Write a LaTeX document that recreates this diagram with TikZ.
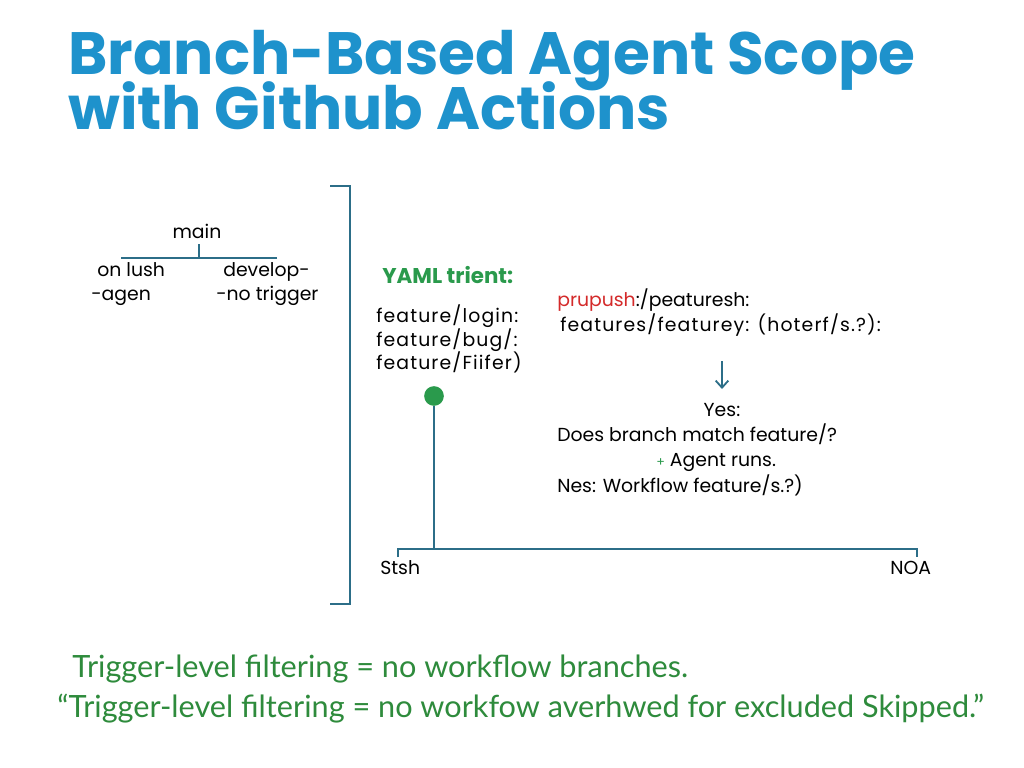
\documentclass[tikz,border=0pt]{standalone}
\usepackage{fontspec}
\setmainfont{Poppins}
\newfontfamily\notefont{Lato}
\usepackage{xcolor}
\definecolor{titleblue}{HTML}{1E92CC}
\definecolor{yamlgreen}{HTML}{2A9A4C}
\definecolor{notegreen}{HTML}{2E8B3C}
\definecolor{wire}{HTML}{2C6E88}
\definecolor{pushred}{HTML}{D42A2A}
\usetikzlibrary{positioning,arrows.meta,calc}

\begin{document}
\begin{tikzpicture}[x=0.025cm,y=-0.025cm,
	wire/.style={draw=wire, line width=1.6pt},
	txt/.style={anchor=base west, inner sep=0pt, font=\fontsize{13.4}{16}\selectfont},
	ctxt/.style={anchor=base, inner sep=0pt, font=\fontsize{13.4}{16}\selectfont},
	wide/.style={font=\fontsize{13.4}{16}\selectfont\addfontfeature{LetterSpace=6}},
	title/.style={anchor=base west, inner sep=0pt, text=titleblue, font=\bfseries\fontsize{42.5}{48}\selectfont},
	note/.style={anchor=base west, inner sep=0pt, text=notegreen, font=\notefont\fontsize{21.8}{25}\selectfont}]
	\useasboundingbox[fill=white] (0,0) rectangle (1024,768);
	
	% draw title
	\draw (68,75) node[title] (title1) {Branch-Based Agent Scope};
	\draw (68,130) node[title] (title2) {with Github Actions};
	
	% draw branch tree
	\draw (197,238) node[ctxt] (main) {main};
	\draw (97,276) node[txt] (onlush) {on lush};
	\draw (91,300) node[txt] (agen) {-agen};
	\draw (223,276) node[txt] (develop) {develop-};
	\draw (216,300) node[txt] (notrig) {-no trigger};
	\coordinate (tl) at (121,258);
	\coordinate (tr) at (277,258);
	\coordinate (tm) at (199,244);
	\draw[wire, line width=1.2pt] (tl) |- (tr);
	\draw[wire, line width=1.2pt] (tr) |- (tl);
	\draw[wire, line width=1.2pt] (tm) -- (tm |- tl) ++(0,-8);
	
	%%% big bracket
	\coordinate (bt) at (330,186);
	\coordinate (bb) at (330,604);
	\draw[wire] (bt) -| (350,604) -- (bb);
	
	% draw yaml side
	\draw (382,283) node[txt, text=yamlgreen, font=\bfseries\fontsize{15.2}{18}\selectfont] (yaml) {YAML trient:};
	\draw (376,322) node[txt, wide] (flogin) {feature/login:};
	\draw (376,346) node[txt, wide] (fbug) {feature/bug/:};
	\draw (376,369) node[txt, wide] (ffiifer) {feature/Fiifer)};
	\draw (434,396) node[circle, fill=yamlgreen, minimum size=14pt, inner sep=0pt] (dot) {};
	\coordinate (stem) at (434,549);
	\draw[wire] (dot) -- (stem);
	
	% draw base line
	\coordinate (sl) at (398,557);
	\coordinate (sr) at (917,557);
	\draw[wire] (sl) |- (stem) -| (sr);
	\draw (380,574) node[txt] (stsh) {Stsh};
	\draw (890,574) node[txt] (noa) {NOA};
	
	% draw push side
	\draw (557,306) node[txt] (push) {\textcolor{pushred}{prupush}:/peaturesh:};
	\draw (560,331) node[txt, wide] (feats) {features/featurey: (hoterf/s.?):};
	\coordinate (ar1) at (722,361);
	\coordinate (ar2) at (722,389);
	\draw[wire, line width=1.3pt, -{Straight Barb[length=5pt,width=9pt]}] (ar1) -- (ar2);
	\draw (722,416) node[ctxt] (yes) {Yes:};
	\draw (557,441) node[txt] (match) {Does branch match feature/?};
	\draw (656,466) node[txt] (runs) {\textcolor{yamlgreen}{\small+}\ Agent runs.};
	\draw (557,492) node[txt] (nes) {Nes: Workflow feature/s.?)};
	
	% draw notes
	\draw (72,677) node[note] (note1) {Trigger-level filtering = no workflow branches.};
	\draw (57,717) node[note] (note2) {“Trigger-level filtering = no workfow averhwed for excluded Skipped.”};
\end{tikzpicture}
\end{document}
